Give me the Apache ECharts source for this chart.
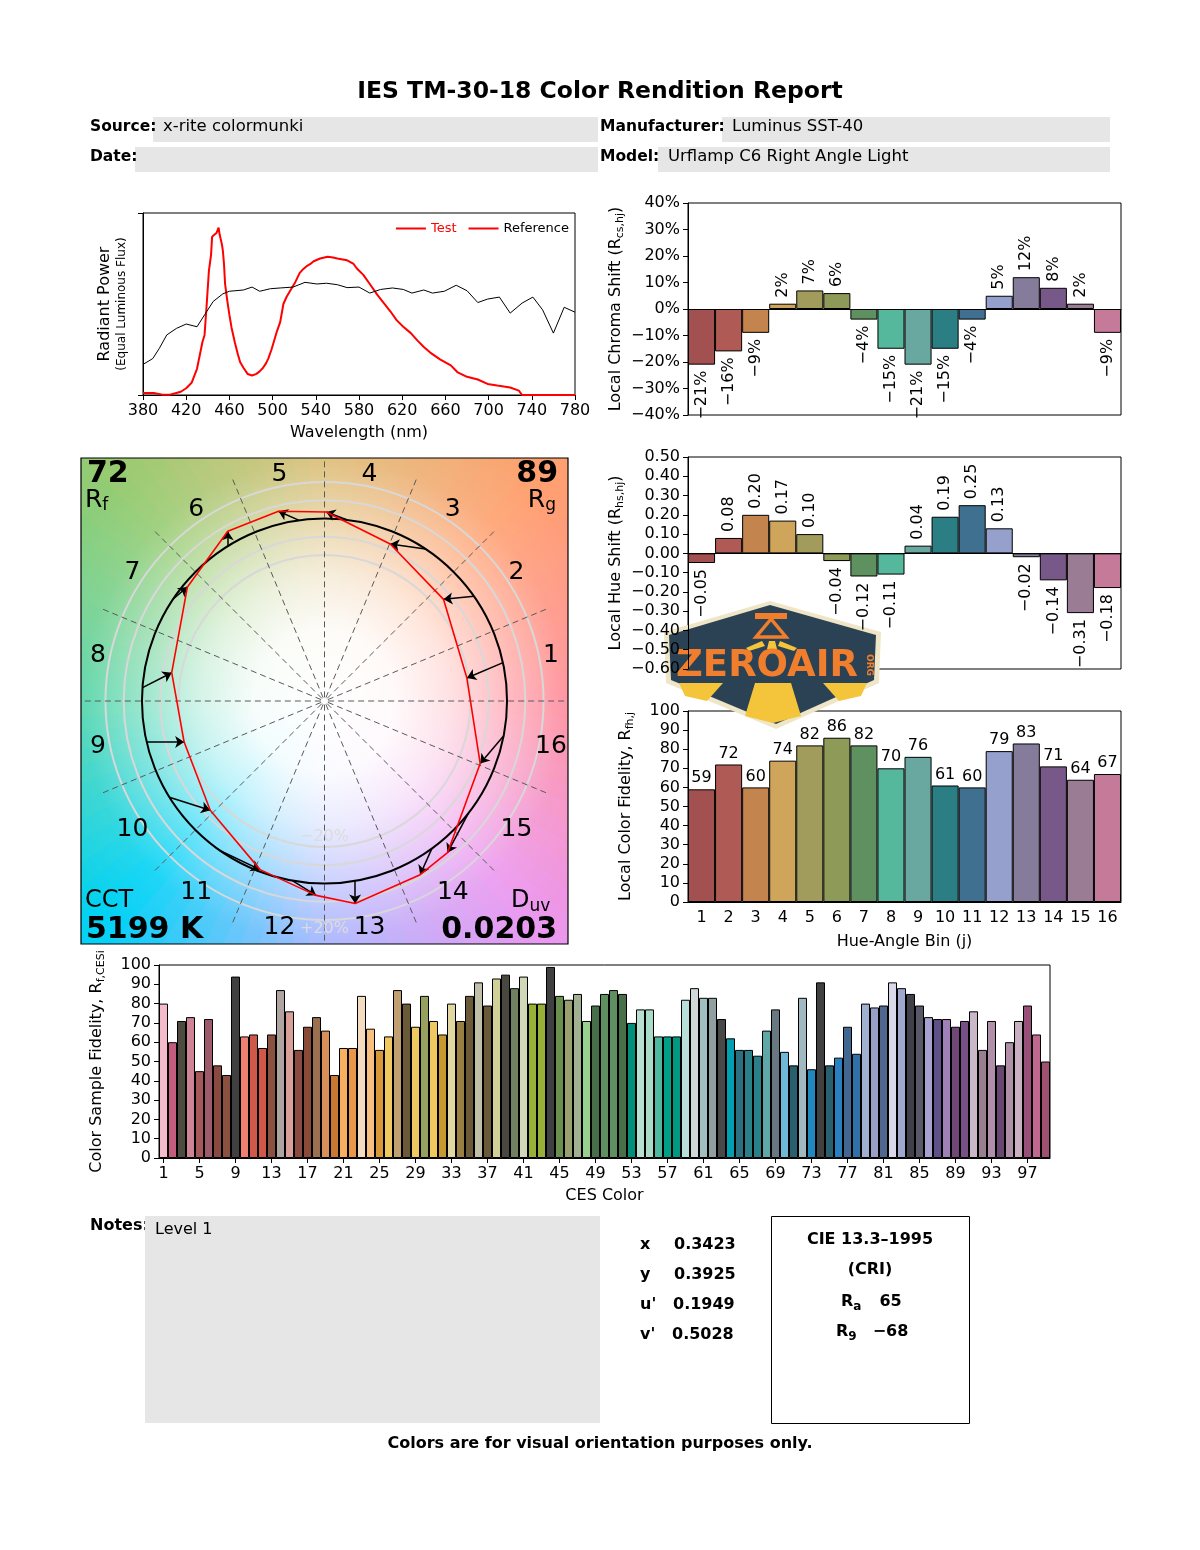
<!DOCTYPE html>
<html>
<head>
<meta charset="utf-8">
<title>IES TM-30-18 Color Rendition Report</title>
<script src="https://cdn.jsdelivr.net/npm/echarts@6.0.0/dist/echarts.min.js"></script>
<style>
html,body{margin:0;padding:0;background:#ffffff;}
#chart{width:1200px;height:1550px;}
</style>
</head>
<body>
<div id="chart"></div>
<script>
const FONT = 'DejaVu Sans';
const MINUS = '\u2212';

// ---------- Spectrum ----------
const specTestWl = [380,390,398,405,410,415,420,425,430,435,437,439,441,443,444,446,448,450,451,453,454,455,456,458,460,462,465,468,470,473,477,481,485,488,491,494,496,499,501,504,507,510,513,516,519,521,525,528,532,535,538,544,551,556,560,565,569,575,578,584,590,597,603,609,615,621,628,634,640,646,655,665,671,680,690,699,708,720,728,731,740,780];
const specTestVal = [0.011,0.011,0.002,0.002,0.010,0.018,0.037,0.067,0.144,0.29,0.33,0.50,0.68,0.77,0.87,0.88,0.89,0.92,0.88,0.83,0.79,0.72,0.61,0.52,0.44,0.37,0.29,0.22,0.18,0.15,0.115,0.107,0.116,0.13,0.148,0.175,0.20,0.25,0.29,0.35,0.40,0.50,0.54,0.57,0.60,0.62,0.67,0.69,0.71,0.72,0.735,0.75,0.76,0.755,0.75,0.745,0.74,0.72,0.695,0.66,0.61,0.55,0.505,0.46,0.41,0.375,0.34,0.30,0.264,0.233,0.196,0.163,0.126,0.10,0.085,0.061,0.052,0.041,0.024,0.0,0.0,0.0];
const specRefWl = [380,389,395,402,411,420,430,437,445,454,460,473,481,488,498,507,519,530,541,550,560,569,580,590,600,611,621,629,640,648,659,670,680,690,699,710,720,731,741,750,760,770,780];
const specRefVal = [0.168,0.20,0.255,0.33,0.366,0.39,0.375,0.44,0.514,0.556,0.57,0.577,0.593,0.57,0.584,0.588,0.593,0.619,0.61,0.614,0.606,0.59,0.593,0.56,0.58,0.588,0.58,0.56,0.577,0.56,0.57,0.603,0.573,0.508,0.527,0.538,0.45,0.505,0.538,0.468,0.34,0.482,0.455];

// ---------- Hue-angle bins ----------
const hueBins = ['1','2','3','4','5','6','7','8','9','10','11','12','13','14','15','16'];
const binColors = ['#A35050','#B05A55','#C4844E','#CFA55C','#A29C5C','#8E9A58','#5E9060','#55B89C','#68A8A0','#2A7E84','#3F7090','#95A0CC','#857C9C','#785888','#9A7C94','#C47A98'];
const chromaShift = [-21,-16,-9,2,7,6,-4,-15,-21,-15,-4,5,12,8,2,-9];
const hueShift = [-0.05,0.08,0.20,0.17,0.10,-0.04,-0.12,-0.11,0.04,0.19,0.25,0.13,-0.02,-0.14,-0.31,-0.18];
const localFidelity = [59,72,60,74,82,86,82,70,76,61,60,79,83,71,64,67];

// ---------- CES samples ----------
const cesLabels = ['1','2','3','4','5','6','7','8','9','10','11','12','13','14','15','16','17','18','19','20','21','22','23','24','25','26','27','28','29','30','31','32','33','34','35','36','37','38','39','40','41','42','43','44','45','46','47','48','49','50','51','52','53','54','55','56','57','58','59','60','61','62','63','64','65','66','67','68','69','70','71','72','73','74','75','76','77','78','79','80','81','82','83','84','85','86','87','88','89','90','91','92','93','94','95','96','97','98','99'];
const cesFidelity = [80,60,71,73,45,72,48,43,94,63,
  64,57,64,87,76,56,68,73,66,43,
  57,57,84,67,56,63,87,80,68,84,
  71,64,80,71,84,91,79,93,95,88,
  94,80,80,99,84,82,85,71,79,85,
  87,85,70,77,77,63,63,63,82,88,
  83,83,72,62,56,56,53,66,77,55,
  48,83,46,91,48,52,68,54,80,78,
  79,91,88,85,79,73,72,72,68,71,
  76,56,71,48,60,71,79,64,50];
const cesColors = ['#F4BCCB','#C45C7E','#4D4A40','#CE8494','#A65858','#9C5A6A','#8A4A40','#8A5040','#404040','#F08070',
  '#D05848','#D05848','#8A5040','#B0A4A0','#D8A098','#8A4A40','#8A4A38','#9A7050','#D89058','#C87830',
  '#F8B060','#E89848','#F4DCC0','#F8C080','#D89838','#F0C860','#C0A070','#6A5A38','#F0C860','#98A060',
  '#F0C860','#C89830','#E0D8A0','#9A8040','#6A5A38','#C0C0A8','#6A5A38','#D0D098','#484840','#708060',
  '#D0D8B8','#98B038','#98B038','#404040','#6A9050','#98A070','#A0B090','#98D090','#487048','#609060',
  '#609060','#487048','#00907A','#B8E0D0','#A8DCC8','#50B8A0','#00A088','#009880','#B8E0D8','#D0D8D8',
  '#A0C0C0','#90A0A0','#484848','#00A0B0','#2A7080','#2A8088','#2A8088','#60A8A8','#687880','#70B8D8',
  '#286070','#A0B8C0','#2088C0','#404040','#286070','#2880C0','#406890','#3070A8','#A0B0D0','#98A0C8',
  '#506890','#D8D8E8','#A0A8D0','#404048','#585868','#A8A0D0','#605088','#A080B8','#704878','#785088',
  '#C8B8C8','#988090','#B090A8','#684870','#B090A8','#C8B0C0','#985078','#C06890','#A05070'];

// ---------- Color vector graphic (normalized a', b') ----------
const refX = [0.978,0.819,0.553,0.122,-0.139,-0.530,-0.829,-0.997,-0.974,-0.850,-0.574,-0.174,0.167,0.588,0.788,0.982];
const refY = [0.210,0.574,0.833,0.993,0.990,0.848,0.559,0.073,-0.225,-0.527,-0.819,-0.985,-0.986,-0.809,-0.616,-0.191];
const testX = [0.780,0.652,0.360,0.009,-0.252,-0.530,-0.751,-0.837,-0.769,-0.626,-0.353,-0.046,0.168,0.524,0.674,0.853];
const testY = [0.126,0.557,0.860,1.036,1.040,0.930,0.625,0.155,-0.225,-0.599,-0.924,-1.065,-1.110,-0.952,-0.831,-0.343];
const ringRadii = [0.8,0.9,1.1,1.2];
const ringLabels = [MINUS + '20%', '+20%'];

// ---------- Summary values ----------
const Rf = '72', Rg = '89', CCT = '5199 K', Duv = '0.0203';
const chromX = '0.3423', chromY = '0.3925', uPrime = '0.1949', vPrime = '0.5028';
const criRa = '65', criR9 = '\u221268';

// ---------- helpers ----------
function fmtSigned(v, digits, suffix) {
  if (Math.abs(v) < 1e-9) v = 0;
  const s = Math.abs(v).toFixed(digits) + (suffix || '');
  return v < 0 ? MINUS + s : s;
}
const wheelColors = ['#FF8A98','#FFA070','#DCBC74','#94CC72','#52D4A8','#00D2F6','#A4B2FF','#EC98EE'];
function hexToRgb(h){const n=parseInt(h.slice(1),16);return [(n>>16)&255,(n>>8)&255,n&255];}
function wheelColorAt(deg){
  const n = wheelColors.length, step = 360/n;
  deg = ((deg%360)+360)%360;
  const k = Math.floor(deg/step)%n, t = (deg-k*step)/step;
  const a = hexToRgb(wheelColors[k]), b = hexToRgb(wheelColors[(k+1)%n]);
  return 'rgb(' + a.map((v,i)=>Math.round(v+(b[i]-v)*t)).join(',') + ')';
}
const WEDGES = 96;
const wedgeIdx = Array.from({length: WEDGES}, (_, i) => [i, 0]);

const axisLineStyle = {lineStyle:{color:'#000', width:1}};
const tickStyle = {show:true, length:5, lineStyle:{color:'#000'}};
const lblStyle = {color:'#000', fontSize:16, fontFamily:FONT};
const subRich = {
  n:{fontSize:16, fontFamily:FONT, color:'#000', lineHeight:20},
  s:{fontSize:11, fontFamily:FONT, color:'#000', lineHeight:12, verticalAlign:'bottom'}
};

const chart = echarts.init(document.getElementById('chart'), null, {width:1200, height:1550});

const option = {
  backgroundColor:'#ffffff',
  animation:false,
  textStyle:{fontFamily:FONT},
  legend:{
    right:626, top:217, itemWidth:30, itemHeight:2, itemGap:12, icon:'rect',
    textStyle:{fontSize:13, color:'#000', fontFamily:FONT},
    data:[
      {name:'Test', icon:'rect', itemStyle:{color:'#FF0000'}, textStyle:{color:'#FF0000'}},
      {name:'Reference', icon:'rect', itemStyle:{color:'#FF0000'}, textStyle:{color:'#000'}}
    ]
  },
  grid:[
    {left:143, top:213, width:432, height:182, show:true, borderColor:'#000', borderWidth:1},
    {left:688, top:203, width:433, height:212, show:true, borderColor:'#000', borderWidth:1},
    {left:688, top:457, width:433, height:212, show:true, borderColor:'#000', borderWidth:1},
    {left:688, top:711, width:433, height:191, show:true, borderColor:'#000', borderWidth:1},
    {left:159, top:965, width:891, height:193, show:true, borderColor:'#000', borderWidth:1},
    {left:81, top:458, width:487, height:486, show:false}
  ],
  xAxis:[
    {gridIndex:0, type:'value', min:380, max:780, interval:40, axisLine:axisLineStyle, axisTick:tickStyle,
     axisLabel:lblStyle, splitLine:{show:false},
     name:'Wavelength (nm)', nameLocation:'middle', nameGap:30, nameTextStyle:{fontSize:16, color:'#000'}},
    {gridIndex:1, type:'category', data:hueBins, axisLine:{onZero:true, lineStyle:{color:'#000'}}, axisTick:{show:false}, axisLabel:{show:false}},
    {gridIndex:2, type:'category', data:hueBins, axisLine:{onZero:true, lineStyle:{color:'#000'}}, axisTick:{show:false}, axisLabel:{show:false}},
    {gridIndex:3, type:'category', data:hueBins, axisLine:axisLineStyle, axisTick:{show:false}, axisLabel:lblStyle,
     name:'Hue-Angle Bin (j)', nameLocation:'middle', nameGap:32, nameTextStyle:{fontSize:16, color:'#000'}},
    {gridIndex:4, type:'category', data:cesLabels, axisLine:axisLineStyle,
     axisTick:{show:true, alignWithLabel:true, interval:3, length:5, lineStyle:{color:'#000'}},
     axisLabel:Object.assign({interval:3}, lblStyle),
     name:'CES Color', nameLocation:'middle', nameGap:30, nameTextStyle:{fontSize:16, color:'#000'}},
    {gridIndex:5, type:'value', min:-1.334, max:1.334, show:false, splitLine:{show:false}}
  ],
  yAxis:[
    {gridIndex:0, type:'value', min:0, max:1, interval:1, axisLine:{show:true, lineStyle:{color:'#000'}}, axisTick:tickStyle,
     axisLabel:{show:false}, splitLine:{show:false},
     name:'{a|Radiant Power}\n{b|(Equal Luminous Flux)}', nameLocation:'middle', nameRotate:90, nameGap:13,
     nameTextStyle:{rich:{a:{fontSize:16, lineHeight:19, color:'#000', fontFamily:FONT}, b:{fontSize:12, lineHeight:16, color:'#000', fontFamily:FONT}}}},
    {gridIndex:1, type:'value', min:-40, max:40, interval:10, axisLine:{show:true, lineStyle:{color:'#000'}}, axisTick:tickStyle,
     axisLabel:Object.assign({formatter:v=>fmtSigned(v,0,'%')}, lblStyle), splitLine:{show:false},
     name:'{n|Local Chroma Shift (R}{s|cs,hj}{n|)}', nameLocation:'middle', nameRotate:90, nameGap:62,
     nameTextStyle:{rich:subRich}},
    {gridIndex:2, type:'value', min:-0.6, max:0.5, interval:0.1, axisLine:{show:true, lineStyle:{color:'#000'}}, axisTick:tickStyle,
     axisLabel:Object.assign({formatter:v=>fmtSigned(v,2,'')}, lblStyle), splitLine:{show:false},
     name:'{n|Local Hue Shift (R}{s|hs,hj}{n|)}', nameLocation:'middle', nameRotate:90, nameGap:62,
     nameTextStyle:{rich:subRich}},
    {gridIndex:3, type:'value', min:0, max:100, interval:10, axisLine:{show:true, lineStyle:{color:'#000'}}, axisTick:tickStyle,
     axisLabel:lblStyle, splitLine:{show:false},
     name:'{n|Local Color Fidelity, R}{s|fh,j}', nameLocation:'middle', nameRotate:90, nameGap:52,
     nameTextStyle:{rich:subRich}},
    {gridIndex:4, type:'value', min:0, max:100, interval:10, axisLine:{show:true, lineStyle:{color:'#000'}}, axisTick:tickStyle,
     axisLabel:lblStyle, splitLine:{show:false},
     name:'{n|Color Sample Fidelity, R}{s|f,CESi}', nameLocation:'middle', nameRotate:90, nameGap:52,
     nameTextStyle:{rich:subRich}},
    {gridIndex:5, type:'value', min:-1.3315, max:1.3315, show:false, splitLine:{show:false}}
  ],
  series:[
    // spectrum
    {name:'Test', type:'line', xAxisIndex:0, yAxisIndex:0, symbol:'none',
     data:specTestWl.map((w,i)=>[w, specTestVal[i]]), lineStyle:{color:'#FF0000', width:2}, itemStyle:{color:'#FF0000'}},
    {name:'Reference', type:'line', xAxisIndex:0, yAxisIndex:0, symbol:'none',
     data:specRefWl.map((w,i)=>[w, specRefVal[i]]), lineStyle:{color:'#000', width:1}, itemStyle:{color:'#000'}},
    // chroma shift
    {name:'Chroma', type:'bar', xAxisIndex:1, yAxisIndex:1, barCategoryGap:0,
     data:chromaShift.map((v,i)=>({value:v, itemStyle:{color:binColors[i]},
       label:{position: v>=0?'top':'bottom', align: v>=0?'left':'right'}})),
     itemStyle:{borderColor:'#000', borderWidth:1},
     label:{show:true, rotate:90, verticalAlign:'middle', distance:6, fontSize:16, color:'#000', fontFamily:FONT,
       formatter:p=>fmtSigned(p.value,0,'%')}},
    // hue shift
    {name:'Hue', type:'bar', xAxisIndex:2, yAxisIndex:2, barCategoryGap:0,
     data:hueShift.map((v,i)=>({value:v, itemStyle:{color:binColors[i]},
       label:{position: v>=0?'top':'bottom', align: v>=0?'left':'right'}})),
     itemStyle:{borderColor:'#000', borderWidth:1},
     label:{show:true, rotate:90, verticalAlign:'middle', distance:6, fontSize:16, color:'#000', fontFamily:FONT,
       formatter:p=>fmtSigned(p.value,2,'')}},
    // local fidelity
    {name:'Fidelity', type:'bar', xAxisIndex:3, yAxisIndex:3, barCategoryGap:0,
     data:localFidelity.map((v,i)=>({value:v, itemStyle:{color:binColors[i]}})),
     itemStyle:{borderColor:'#000', borderWidth:1},
     label:{show:true, position:'top', distance:3, fontSize:16, color:'#000', fontFamily:FONT}},
    // CES
    {name:'CES', type:'bar', xAxisIndex:4, yAxisIndex:4, barCategoryGap:0,
     data:cesFidelity.map((v,i)=>({value:v, itemStyle:{color:cesColors[i]}})),
     itemStyle:{borderColor:'#000', borderWidth:1}},
    // vector graphic background wedges
    {name:'bgWedges', type:'custom', xAxisIndex:5, yAxisIndex:5, clip:true, silent:true, data:wedgeIdx,
     renderItem:function(params, api){
       const i = api.value(0);
       const a0 = (i/WEDGES)*2*Math.PI, a1 = ((i+1.2)/WEDGES)*2*Math.PI, R = 2.2;
       const c = api.coord([0,0]);
       const p0 = api.coord([R*Math.cos(a0), R*Math.sin(a0)]);
       const p1 = api.coord([R*Math.cos(a1), R*Math.sin(a1)]);
       const col = wheelColorAt((i+0.5)*360/WEDGES);
       return {type:'polygon', shape:{points:[c,p0,p1]}, style:{fill:col, stroke:col, lineWidth:0.5}};
     }},
    {name:'bgWhite', type:'custom', xAxisIndex:5, yAxisIndex:5, clip:true, silent:true, data:[[0,0]],
     renderItem:function(params, api){
       const c = api.coord([0,0]); const r = api.size([1.95,0])[0];
       return {type:'circle', shape:{cx:c[0], cy:c[1], r:r},
         style:{fill:new echarts.graphic.RadialGradient(0.5,0.5,0.5,[
           {offset:0, color:'rgba(255,255,255,1)'},
           {offset:0.2, color:'rgba(255,255,255,0.95)'},
           {offset:0.35, color:'rgba(255,255,255,0.75)'},
           {offset:0.45, color:'rgba(255,255,255,0.55)'},
           {offset:0.55, color:'rgba(255,255,255,0.35)'},
           {offset:0.68, color:'rgba(255,255,255,0.1)'},
           {offset:0.85, color:'rgba(255,255,255,0)'},
           {offset:1, color:'rgba(255,255,255,0)'}])}};
     }},
    {name:'rings', type:'custom', xAxisIndex:5, yAxisIndex:5, clip:true, silent:true, data:ringRadii.map(r=>[r,0]),
     renderItem:function(params, api){
       const c = api.coord([0,0]); const r = api.size([api.value(0),0])[0];
       return {type:'circle', shape:{cx:c[0], cy:c[1], r:r}, style:{fill:null, stroke:'#D8D8D8', lineWidth:2}};
     }},
    {name:'binLines', type:'custom', xAxisIndex:5, yAxisIndex:5, clip:true, silent:true,
     data:hueBins.map((b,i)=>[i*22.5,0]),
     renderItem:function(params, api){
       const a = api.value(0)*Math.PI/180; const R = (api.value(0)%90===0)?1.34:1.32;
       const p0 = api.coord([0.02*Math.cos(a), 0.02*Math.sin(a)]);
       const p1 = api.coord([R*Math.cos(a), R*Math.sin(a)]);
       return {type:'line', shape:{x1:p0[0], y1:p0[1], x2:p1[0], y2:p1[1]}, style:{stroke:'#5A5A5A', lineWidth:1, lineDash:[6,4]}};
     }},
    {name:'refCircle', type:'custom', xAxisIndex:5, yAxisIndex:5, clip:true, silent:true, data:[[1,0]],
     renderItem:function(params, api){
       const c = api.coord([0,0]); const r = api.size([api.value(0),0])[0];
       return {type:'circle', shape:{cx:c[0], cy:c[1], r:r}, style:{fill:null, stroke:'#000', lineWidth:2}};
     }},
    {name:'testPolygon', type:'line', xAxisIndex:5, yAxisIndex:5, symbol:'none', silent:true,
     data:testX.map((x,i)=>[x,testY[i]]).concat([[testX[0],testY[0]]]),
     lineStyle:{color:'#FF0000', width:1.6}},
    {name:'arrows', type:'lines', coordinateSystem:'cartesian2d', xAxisIndex:5, yAxisIndex:5, silent:true,
     symbol:['none','arrow'], symbolSize:[0,9],
     lineStyle:{color:'#000', width:1.5, opacity:1},
     data:refX.map((x,i)=>({coords:[[x,refY[i]],[testX[i],testY[i]]]}))},
    {name:'binNums', type:'custom', xAxisIndex:5, yAxisIndex:5, silent:true,
     data:hueBins.map((b,i)=>{const a=(11.25+22.5*i)*Math.PI/180; return [1.265*Math.cos(a), 1.265*Math.sin(a), i];}),
     renderItem:function(params, api){
       const p = api.coord([api.value(0), api.value(1)]);
       return {type:'text', x:p[0], y:p[1], style:{text:hueBins[api.value(2)], fontSize:25, fontFamily:FONT, fill:'#000', align:'center', verticalAlign:'middle'}};
     }},
    {name:'ringLbls', type:'custom', xAxisIndex:5, yAxisIndex:5, silent:true,
     data:[[0,-0.745,0],[0,-1.25,1]],
     renderItem:function(params, api){
       const p = api.coord([api.value(0), api.value(1)]);
       return {type:'text', x:p[0], y:p[1], style:{text:ringLabels[api.value(2)], fontSize:16, fontFamily:FONT, fill:'#DCDCDC', align:'center', verticalAlign:'middle'}};
     }},
    {name:'frame', type:'custom', xAxisIndex:5, yAxisIndex:5, silent:true, data:[[0,0]],
     renderItem:function(params, api){
       const cs = params.coordSys;
       return {type:'rect', shape:{x:cs.x, y:cs.y, width:cs.width, height:cs.height}, style:{fill:null, stroke:'#000', lineWidth:1.2}};
     }}
  ],
  graphic:[
    {type:'text', x:600, y:92, style:{text:'IES TM-30-18 Color Rendition Report', fontSize:23.5, fontWeight:'bold', fontFamily:FONT, fill:'#000', align:'center', verticalAlign:'middle'}},
    {type:'rect', shape:{x:153, y:117, width:445, height:25}, style:{fill:'#E6E6E6'}},
    {type:'rect', shape:{x:722, y:117, width:388, height:25}, style:{fill:'#E6E6E6'}},
    {type:'rect', shape:{x:135, y:147, width:463, height:25}, style:{fill:'#E6E6E6'}},
    {type:'rect', shape:{x:658, y:147, width:452, height:25}, style:{fill:'#E6E6E6'}},
    {type:'text', x:90, y:127, style:{text:'Source:', fontSize:15.5, fontWeight:'bold', fontFamily:FONT, fill:'#000', verticalAlign:'middle'}},
    {type:'text', x:163, y:127, style:{text:'x-rite colormunki', fontSize:16.5, fontFamily:FONT, fill:'#000', verticalAlign:'middle'}},
    {type:'text', x:600, y:127, style:{text:'Manufacturer:', fontSize:15.5, fontWeight:'bold', fontFamily:FONT, fill:'#000', verticalAlign:'middle'}},
    {type:'text', x:732, y:127, style:{text:'Luminus SST-40', fontSize:16.5, fontFamily:FONT, fill:'#000', verticalAlign:'middle'}},
    {type:'text', x:90, y:157, style:{text:'Date:', fontSize:15.5, fontWeight:'bold', fontFamily:FONT, fill:'#000', verticalAlign:'middle'}},
    {type:'text', x:600, y:157, style:{text:'Model:', fontSize:15.5, fontWeight:'bold', fontFamily:FONT, fill:'#000', verticalAlign:'middle'}},
    {type:'text', x:668, y:157, style:{text:'Urflamp C6 Right Angle Light', fontSize:16.5, fontFamily:FONT, fill:'#000', verticalAlign:'middle'}},
    // vector graphic corner texts
    {type:'text', x:87, y:474, z:50, style:{text:Rf, fontSize:30, fontWeight:'bold', fontFamily:FONT, fill:'#000', verticalAlign:'middle'}},
    {type:'text', x:85, y:500, z:50, style:{text:'{r|R}{s|f}', rich:{r:{fontSize:25, fontFamily:FONT, fill:'#000', lineHeight:28}, s:{fontSize:17, fontFamily:FONT, fill:'#000', lineHeight:18, verticalAlign:'bottom'}}, verticalAlign:'middle'}},
    {type:'text', x:558, y:474, z:50, style:{text:Rg, fontSize:30, fontWeight:'bold', fontFamily:FONT, fill:'#000', align:'right', verticalAlign:'middle'}},
    {type:'text', x:556, y:500, z:50, style:{text:'{r|R}{s|g}', rich:{r:{fontSize:25, fontFamily:FONT, fill:'#000', lineHeight:28}, s:{fontSize:17, fontFamily:FONT, fill:'#000', lineHeight:18, verticalAlign:'bottom'}}, align:'right', verticalAlign:'middle'}},
    {type:'text', x:85, y:901, z:50, style:{text:'CCT', fontSize:24, fontFamily:FONT, fill:'#000', verticalAlign:'middle'}},
    {type:'text', x:86, y:930, z:50, style:{text:CCT, fontSize:30, fontWeight:'bold', fontFamily:FONT, fill:'#000', verticalAlign:'middle'}},
    {type:'text', x:511, y:901, z:50, style:{text:'{r|D}{s|uv}', rich:{r:{fontSize:24, fontFamily:FONT, fill:'#000', lineHeight:28}, s:{fontSize:17, fontFamily:FONT, fill:'#000', lineHeight:18, verticalAlign:'bottom'}}, verticalAlign:'middle'}},
    {type:'text', x:557, y:930, z:50, style:{text:Duv, fontSize:30, fontWeight:'bold', fontFamily:FONT, fill:'#000', align:'right', verticalAlign:'middle'}},
    // bottom section
    {type:'text', x:90, y:1226, style:{text:'Notes:', fontSize:16, fontWeight:'bold', fontFamily:FONT, fill:'#000', verticalAlign:'middle'}},
    {type:'rect', shape:{x:145, y:1216, width:455, height:207}, style:{fill:'#E6E6E6'}},
    {type:'text', x:155, y:1230, style:{text:'Level 1', fontSize:16, fontFamily:FONT, fill:'#000', verticalAlign:'middle'}},
    {type:'text', x:640, y:1245, style:{text:'x', fontSize:16, fontWeight:'bold', fontFamily:FONT, fill:'#000', verticalAlign:'middle'}},
    {type:'text', x:674, y:1245, style:{text:chromX, fontSize:16, fontWeight:'bold', fontFamily:FONT, fill:'#000', verticalAlign:'middle'}},
    {type:'text', x:640, y:1275, style:{text:'y', fontSize:16, fontWeight:'bold', fontFamily:FONT, fill:'#000', verticalAlign:'middle'}},
    {type:'text', x:674, y:1275, style:{text:chromY, fontSize:16, fontWeight:'bold', fontFamily:FONT, fill:'#000', verticalAlign:'middle'}},
    {type:'text', x:640, y:1305, style:{text:"u'", fontSize:16, fontWeight:'bold', fontFamily:FONT, fill:'#000', verticalAlign:'middle'}},
    {type:'text', x:673, y:1305, style:{text:uPrime, fontSize:16, fontWeight:'bold', fontFamily:FONT, fill:'#000', verticalAlign:'middle'}},
    {type:'text', x:640, y:1335, style:{text:"v'", fontSize:16, fontWeight:'bold', fontFamily:FONT, fill:'#000', verticalAlign:'middle'}},
    {type:'text', x:672, y:1335, style:{text:vPrime, fontSize:16, fontWeight:'bold', fontFamily:FONT, fill:'#000', verticalAlign:'middle'}},
    {type:'rect', shape:{x:771.5, y:1216.5, width:198, height:207}, style:{fill:null, stroke:'#000', lineWidth:1}},
    {type:'text', x:870, y:1240, style:{text:'CIE 13.3\u20131995', fontSize:16, fontWeight:'bold', fontFamily:FONT, fill:'#000', align:'center', verticalAlign:'middle'}},
    {type:'text', x:870, y:1270, style:{text:'(CRI)', fontSize:16, fontWeight:'bold', fontFamily:FONT, fill:'#000', align:'center', verticalAlign:'middle'}},
    {type:'text', x:841, y:1302, style:{text:'{r|R}{s|a}{g|}{r|'+criRa+'}', rich:{r:{fontSize:16, fontWeight:'bold', fontFamily:FONT, fill:'#000', lineHeight:22}, s:{fontSize:12, fontWeight:'bold', fontFamily:FONT, fill:'#000', lineHeight:12, verticalAlign:'bottom'}, g:{width:18}}, verticalAlign:'middle'}},
    {type:'text', x:836, y:1332, style:{text:'{r|R}{s|9}{g|}{r|'+criR9+'}', rich:{r:{fontSize:16, fontWeight:'bold', fontFamily:FONT, fill:'#000', lineHeight:22}, s:{fontSize:12, fontWeight:'bold', fontFamily:FONT, fill:'#000', lineHeight:12, verticalAlign:'bottom'}, g:{width:16}}, verticalAlign:'middle'}},
    {type:'text', x:600, y:1444, style:{text:'Colors are for visual orientation purposes only.', fontSize:16, fontWeight:'bold', fontFamily:FONT, fill:'#000', align:'center', verticalAlign:'middle'}},
    // watermark logo
    {type:'group', z:100, children:[
      {type:'polygon', shape:{points:[[664,632],[770,601],[881,632],[879,683],[776,729],[666,683]]}, style:{fill:'#EEE6C6'}},
      {type:'polygon', shape:{points:[[669,635],[770,605],[876,635],[874,680],[776,724],[671,680]]}, style:{fill:'#2B4254'}},
      {type:'polygon', shape:{points:[[755,683],[791,683],[801,716],[773,723],[745,716]]}, style:{fill:'#F4C53A'}},
      {type:'polygon', shape:{points:[[679,683],[723,683],[707,701],[685,696]]}, style:{fill:'#F4C53A'}},
      {type:'polygon', shape:{points:[[823,683],[867,683],[861,696],[839,701]]}, style:{fill:'#F4C53A'}},
      {type:'polygon', shape:{points:[[746,648],[762,641],[765,646],[749,651]]}, style:{fill:'#F4C53A'}},
      {type:'polygon', shape:{points:[[769,641],[775,641],[777,649],[767,649]]}, style:{fill:'#F4C53A'}},
      {type:'polygon', shape:{points:[[780,641],[797,648],[794,651],[778,646]]}, style:{fill:'#F4C53A'}},
      {type:'rect', shape:{x:755, y:613, width:32, height:6}, style:{fill:'#F07E2C'}},
      {type:'polygon', shape:{points:[[771,619],[756,637],[786,637]]}, style:{fill:'#2B4254', stroke:'#F07E2C', lineWidth:3.5}},
      {type:'text', x:767, y:666, style:{text:'ZEROAIR', fontSize:37, fontWeight:'bold', fontFamily:FONT, fill:'#F07E2C', align:'center', verticalAlign:'middle'}},
      {type:'text', x:869, y:665, rotation:-Math.PI/2, style:{text:'ORG', fontSize:9, fontWeight:'bold', fontFamily:FONT, fill:'#F07E2C', align:'center', verticalAlign:'middle'}}
    ]}
  ]
};
chart.setOption(option);
</script>
</body>
</html>
